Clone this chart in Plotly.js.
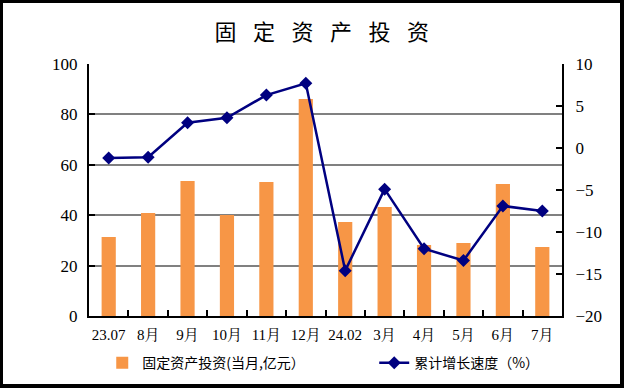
<!DOCTYPE html>
<html>
<head>
<meta charset="utf-8">
<script src="https://cdn.plot.ly/plotly-3.0.1.min.js"></script>
<style>
  html, body { margin: 0; padding: 0; background: #fff; }
  #wrap { position: relative; width: 625px; height: 388px; }
  #chart { width: 625px; height: 388px; }
  #frame { position: absolute; left: 0; top: 0; width: 624px; height: 388px; box-sizing: border-box;
           border: 3px solid #000; border-right-width: 4px; border-bottom-width: 4px; pointer-events: none; }
</style>
</head>
<body>
<div id="wrap"><div id="chart"></div><div id="frame"></div></div>
<script>
const categories = ["23.07", "8月", "9月", "10月", "11月", "12月", "24.02", "3月", "4月", "5月", "6月", "7月"];
const investment = [31.3, 40.9, 53.6, 40.1, 53.2, 86.1, 37.3, 43.3, 28.2, 29.0, 52.4, 27.4];
const growth = [-1.2, -1.1, 3.0, 3.6, 6.3, 7.7, -14.6, -4.9, -12.0, -13.4, -6.9, -7.5];
const leftTicks = [0, 20, 40, 60, 80, 100];
const rightTicks = [-20, -15, -10, -5, 0, 5, 10];

const serif = "Times New Roman, Liberation Serif, Noto Serif CJK SC, Noto Sans CJK SC, serif";
const cjk = "Noto Sans CJK SC, sans-serif";

const traces = [
  {
    type: "bar",
    x: categories,
    y: investment,
    name: "固定资产投资(当月,亿元）",
    marker: { color: "#F79646" },
    yaxis: "y",
    legend: "legend"
  },
  {
    type: "scatter",
    mode: "lines+markers",
    x: categories,
    y: growth,
    name: "累计增长速度（%）",
    line: { color: "#000080", width: 2.5 },
    marker: { symbol: "diamond", size: 10, color: "#000080" },
    yaxis: "y2",
    legend: "legend2"
  }
];

const legendBase = {
  orientation: "h",
  xanchor: "left",
  yref: "container",
  y: 0.064, yanchor: "middle",
  font: { family: cjk, size: 14, color: "#000" },
  bgcolor: "rgba(0,0,0,0)"
};

const layout = {
  width: 625,
  height: 388,
  margin: { l: 89, r: 63, t: 64, b: 72, pad: 0 },
  paper_bgcolor: "#fff",
  plot_bgcolor: "#fff",
  title: {
    text: "固\u2002\u2005定\u2002\u2005资\u2002\u2005产\u2002\u2005投\u2002\u2005资",
    font: { family: cjk, size: 22, color: "#000" },
    x: 0.515, xanchor: "center", y: 0.917, yanchor: "middle"
  },
  bargap: 0.64,
  showlegend: true,
  legend: Object.assign({}, legendBase, { x: 0.028 }),
  legend2: Object.assign({}, legendBase, { x: 0.603 }),
  xaxis: {
    type: "category",
    range: [-0.5, categories.length - 0.5],
    showline: true, linecolor: "#000", linewidth: 2,
    ticks: "inside", ticklen: 6, tickwidth: 2, tickcolor: "#000",
    tickson: "boundaries",
    tickangle: 0,
    showgrid: false,
    automargin: false,
    tickfont: { family: serif, size: 15, color: "#000" },
    ticklabelstandoff: 4,
    fixedrange: true
  },
  yaxis: {
    range: [0, 100],
    tickvals: leftTicks,
    showline: true, linecolor: "#000", linewidth: 2,
    ticks: "inside", ticklen: 6, tickwidth: 2, tickcolor: "#000",
    showgrid: true, gridcolor: "#808080", gridwidth: 2,
    zeroline: false,
    automargin: false,
    tickfont: { family: serif, size: 17, color: "#000" },
    ticklabelstandoff: 6
  },
  yaxis2: {
    range: [-20, 10],
    tickvals: rightTicks,
    overlaying: "y",
    side: "right",
    showline: true, linecolor: "#000", linewidth: 2,
    ticks: "inside", ticklen: 6, tickwidth: 2, tickcolor: "#000",
    showgrid: false, zeroline: false,
    automargin: false,
    tickfont: { family: serif, size: 17, color: "#000" },
    ticklabelstandoff: 8
  }
};

Plotly.newPlot("chart", traces, layout, { displayModeBar: false, staticPlot: true });
</script>
</body>
</html>
